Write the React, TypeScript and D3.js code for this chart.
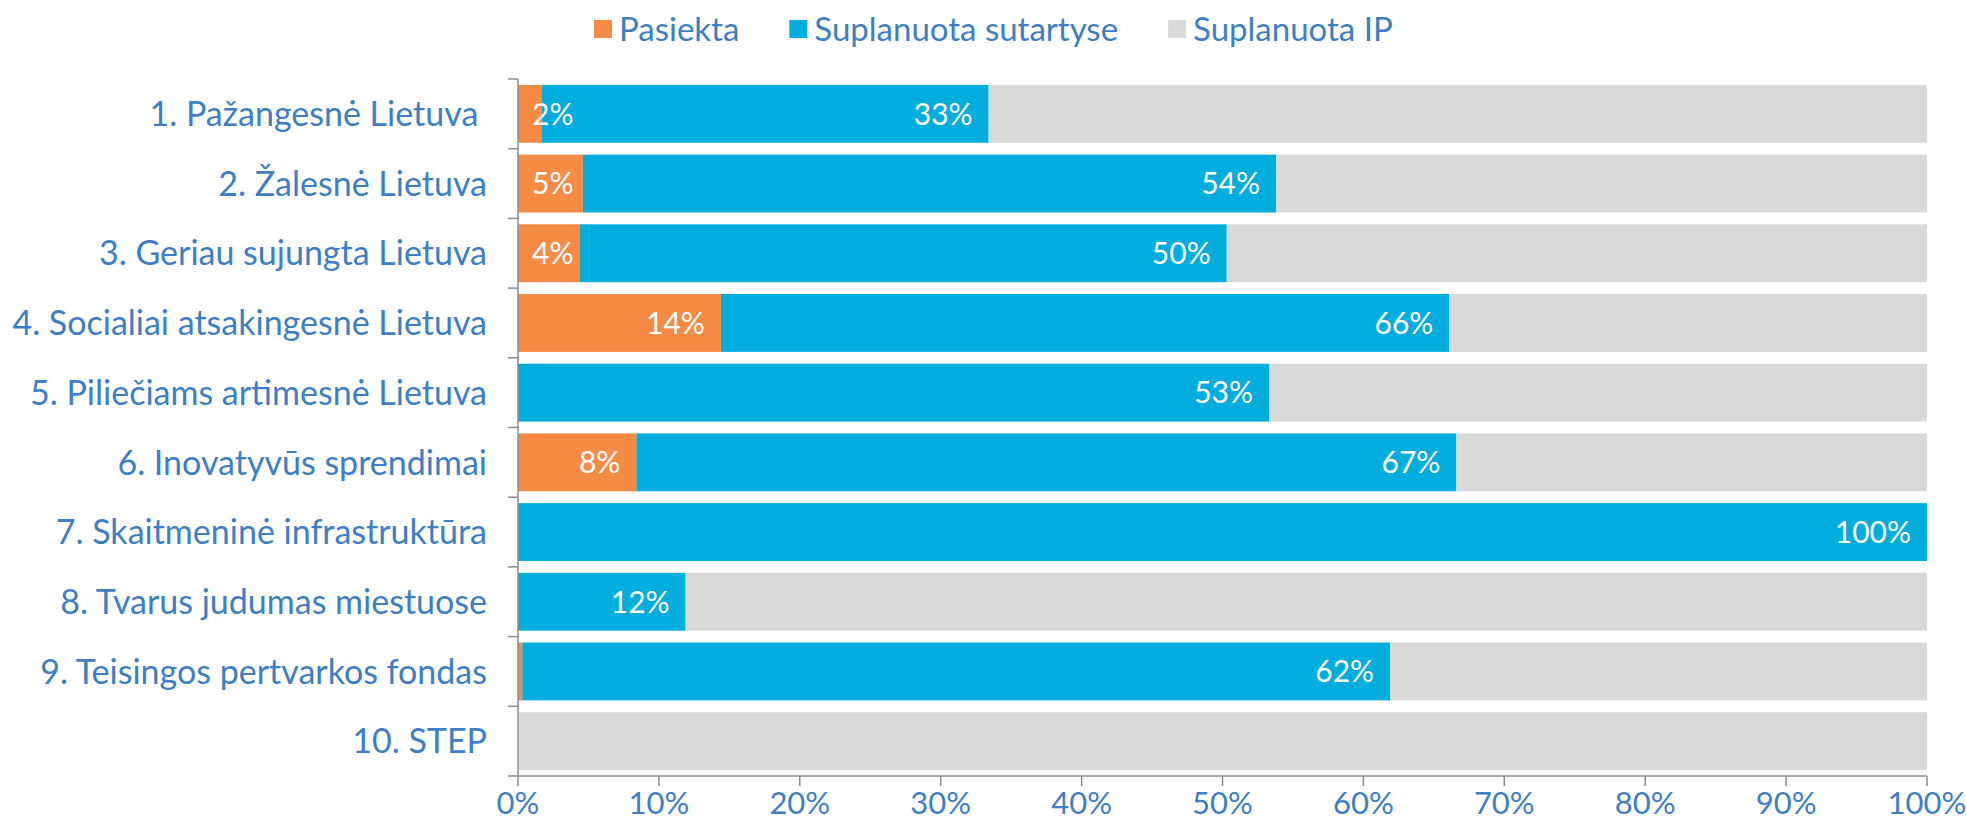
import React, { useEffect, useRef } from 'react';
import * as d3 from 'd3';

const categories = [
  '1. Pažangesnė Lietuva ',
  '2. Žalesnė Lietuva',
  '3. Geriau sujungta Lietuva',
  '4. Socialiai atsakingesnė Lietuva',
  '5. Piliečiams artimesnė Lietuva',
  '6. Inovatyvūs sprendimai',
  '7. Skaitmeninė infrastruktūra',
  '8. Tvarus judumas miestuose',
  '9. Teisingos pertvarkos fondas',
  '10. STEP',
];
// share achieved
const pasiekta = [1.7, 4.6, 4.4, 14.4, 0, 8.4, 0, 0, 0.3, 0];
// share planned in contracts (cumulative, includes achieved)
const sutartyse = [33.4, 53.8, 50.3, 66.1, 53.3, 66.6, 100, 11.9, 61.9, 0];
const seriesNames = ['Pasiekta', 'Suplanuota sutartyse', 'Suplanuota IP'];
const xTicks = [0, 10, 20, 30, 40, 50, 60, 70, 80, 90, 100];

const colors = ['#F58B45', '#00ADDC', '#D9D9D9'];
const textColor = '#3E7EC4';
const font = 'Lato, "Open Sans", sans-serif';

function App() {
  const ref = useRef<SVGSVGElement>(null);

  useEffect(() => {
    const svg = d3.select(ref.current);
    svg.selectAll('*').remove();

    const left = 518, right = 1927, top = 79, bottom = 776;

    const x = d3.scaleLinear().domain([0, 100]).range([left, right]);
    const y = d3.scaleBand<string>()
      .domain(categories)
      .range([top, bottom])
      .paddingInner(0.17)
      .paddingOuter(0.085);

    const rows = categories.map((c, i) => ({
      cat: c,
      segs: [
        { s: 0, e: pasiekta[i], k: 0 },
        { s: pasiekta[i], e: sutartyse[i], k: 1 },
        { s: sutartyse[i], e: 100, k: 2 },
      ],
    }));

    const g = svg.append('g');
    rows.forEach(r => {
      g.selectAll(null)
        .data(r.segs.filter(d => d.e > d.s))
        .enter().append('rect')
        .attr('x', d => x(d.s))
        .attr('y', y(r.cat)!)
        .attr('width', d => x(d.e) - x(d.s))
        .attr('height', y.bandwidth())
        .attr('fill', d => colors[d.k]);
    });

    // data labels, inside end of orange and blue segments
    rows.forEach(r => {
      r.segs.slice(0, 2).forEach(d => {
        if (d.e - d.s <= 0 || Math.round(d.e) < 1) return;
        const t = g.append('text')
          .attr('y', y(r.cat)! + y.bandwidth() / 2)
          .attr('dy', '0.36em')
          .attr('fill', '#fff')
          .attr('font-family', font)
          .attr('font-size', 30)
          .text(`${Math.round(d.e)}%`);
        const w = (t.node() as SVGTextElement).getComputedTextLength();
        t.attr('x', Math.max(x(d.e) - 16 - w, x(d.s) + 14));
      });
    });

    // y axis
    const ya = svg.append('g');
    ya.append('line')
      .attr('x1', left).attr('x2', left)
      .attr('y1', top).attr('y2', bottom)
      .attr('stroke', '#8C8C8C').attr('stroke-width', 1.5);
    const step = y.step();
    d3.range(categories.length + 1).forEach(i => {
      ya.append('line')
        .attr('x1', left - 10).attr('x2', left)
        .attr('y1', top + i * step).attr('y2', top + i * step)
        .attr('stroke', '#8C8C8C').attr('stroke-width', 1.5);
    });
    ya.selectAll('text.cat')
      .data(categories)
      .enter().append('text')
      .attr('class', 'cat')
      .attr('x', left - 31)
      .attr('y', d => y(d)! + y.bandwidth() / 2)
      .attr('dy', '0.36em')
      .attr('text-anchor', 'end')
      .attr('fill', textColor)
      .attr('font-family', font)
      .attr('font-size', 34)
      .style('white-space', 'pre')
      .text(d => d);

    // x axis
    const xa = svg.append('g');
    xa.append('line')
      .attr('x1', left).attr('x2', right)
      .attr('y1', bottom).attr('y2', bottom)
      .attr('stroke', '#8C8C8C').attr('stroke-width', 1.5);
    xa.selectAll('line.tick')
      .data(xTicks)
      .enter().append('line')
      .attr('class', 'tick')
      .attr('x1', d => x(d)).attr('x2', d => x(d))
      .attr('y1', bottom).attr('y2', bottom + 10)
      .attr('stroke', '#8C8C8C').attr('stroke-width', 1.5);
    xa.selectAll('text')
      .data(xTicks)
      .enter().append('text')
      .attr('x', d => x(d))
      .attr('y', 803)
      .attr('dy', '0.36em')
      .attr('text-anchor', 'middle')
      .attr('fill', textColor)
      .attr('font-family', font)
      .attr('font-size', 31)
      .text(d => `${d}%`);

    // legend
    const lg = svg.append('g');
    let lx = 594;
    seriesNames.forEach((n, i) => {
      lg.append('rect')
        .attr('x', lx).attr('y', 20)
        .attr('width', 18).attr('height', 18)
        .attr('fill', colors[i]);
      const t = lg.append('text')
        .attr('x', lx + 25).attr('y', 29)
        .attr('dy', '0.36em')
        .attr('fill', textColor)
        .attr('font-family', font)
        .attr('font-size', 33)
        .text(n);
      lx += 25 + (t.node() as SVGTextElement).getComputedTextLength() + 50;
    });
  }, []);

  return (
    <svg ref={ref} width={1966} height={832}
      style={{ position: 'absolute', left: 0, top: 0, background: '#fff' }} />
  );
}

export default App;
